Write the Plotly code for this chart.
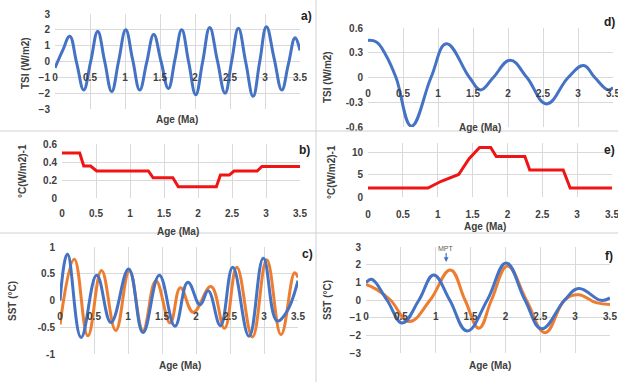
import plotly.graph_objects as go

W, H = 618, 382

# ---------------- data ----------------
age_ticks = [0, 0.5, 1, 1.5, 2, 2.5, 3, 3.5]
age_labels = ["0", "0.5", "1", "1.5", "2", "2.5", "3", "3.5"]

# a) TSI (W/m2)
a_age = [0, 0.11, 0.21, 0.31, 0.41, 0.51, 0.61, 0.71, 0.81, 0.91, 1.01, 1.11, 1.21,
         1.31, 1.41, 1.515, 1.62, 1.715, 1.81, 1.91, 2.01, 2.11, 2.21, 2.32, 2.43,
         2.525, 2.62, 2.725, 2.83, 2.925, 3.02, 3.13, 3.24, 3.335, 3.43, 3.5]
a_tsi = [-0.4, 0.7, 1.6, -0.1, -1.8, 0.0, 1.9, 0.0, -1.9, 0.05, 2.0, 0.1, -1.8,
         -0.05, 1.7, 0.0, -1.7, 0.15, 2.0, -0.05, -2.1, 0.0, 2.15, 0.05, -2.0,
         0.05, 2.1, -0.05, -2.2, 0.0, 2.2, 0.2, -1.8, -0.15, 1.5, 0.7]

# d) TSI (W/m2)
d_age = [0, 0.12, 0.25, 0.4, 0.62, 0.9, 1.12, 1.45, 1.61, 1.79, 2.03, 2.27, 2.55,
         2.86, 3.08, 3.24, 3.43, 3.5]
d_tsi = [0.45, 0.43, 0.28, 0.0, -0.59, 0.0, 0.41, 0.0, -0.15, 0.0, 0.21, 0.0, -0.32,
         0.0, 0.145, 0.0, -0.15, -0.12]

# b) sensitivity °C(W/m2)-1
b_age = [0, 0.26, 0.32, 0.42, 0.51, 1.27, 1.34, 1.63, 1.71, 2.27, 2.33, 2.46, 2.53,
         2.87, 2.94, 3.5]
b_sens = [0.5, 0.5, 0.355, 0.355, 0.30, 0.30, 0.225, 0.225, 0.125, 0.125, 0.255,
          0.255, 0.30, 0.30, 0.35, 0.35]

# e) sensitivity °C(W/m2)-1
e_age = [0, 0.86, 1.05, 1.3, 1.45, 1.6, 1.76, 1.84, 2.25, 2.32, 2.8, 2.9, 3.5]
e_sens = [2, 2, 3.5, 5, 8.5, 11, 11, 9, 9, 6, 6, 2, 2]

# c) SST (°C)
c_blue_age = [0, 0.11, 0.31, 0.54, 0.75, 1.01, 1.22, 1.46, 1.69, 1.88, 2.06, 2.18,
              2.36, 2.54, 2.78, 2.99, 3.19, 3.33, 3.5]
c_blue_sst = [0.0, 0.87, -0.69, 0.47, -0.41, 0.59, -0.6, 0.47, -0.48, 0.34, -0.08,
              0.18, -0.47, 0.62, -0.67, 0.79, -0.38, -0.22, 0.37]
c_orange_age = [0, 0.21, 0.41, 0.61, 0.82, 1.02, 1.22, 1.41, 1.62, 1.77, 1.96, 2.22,
                2.42, 2.6, 2.83, 3.04, 3.25, 3.45, 3.5]
c_orange_sst = [-0.45, 0.77, -0.66, 0.56, -0.56, 0.55, -0.56, 0.37, -0.42, 0.24,
                -0.22, 0.26, -0.52, 0.62, -0.68, 0.76, -0.64, 0.52, 0.43]

# f) SST (°C)
f_blue_age = [0, 0.08, 0.3, 0.52, 0.76, 0.97, 1.2, 1.45, 1.74, 2.01, 2.28, 2.52,
              2.85, 3.05, 3.37, 3.5]
f_blue_sst = [0.98, 1.17, 0.0, -1.3, 0.0, 1.42, 0.0, -1.75, 0.0, 2.1, 0.0, -1.63,
              0.0, 0.65, -0.02, 0.12]
f_orange_age = [0, 0.15, 0.35, 0.62, 0.92, 1.21, 1.42, 1.62, 1.8, 2.03, 2.3, 2.57,
                2.85, 3.05, 3.3, 3.5]
f_orange_sst = [0.88, 0.6, 0.0, -1.22, 0.0, 1.7, 0.0, -1.6, 0.0, 1.93, 0.0, -1.85,
                0.0, 0.3, -0.15, -0.25]

# ---------------- style ----------------
BLUE = "#4472C4"
ORANGE = "#ED7D31"
RED = "#F01414"
GRID = "#D9D9D9"
TXT = "#404040"
FONT = "Liberation Sans"


def fx(px):
    return px / W


def fy(py):
    return 1 - py / H


fig = go.Figure()

# panel: (axis suffix, x0, x1, ytop, ybottom, yrange, yticks, ytext, xaxis label y px)
panels = [
    ("", 55, 300, 14, 109, [-3, 3], [-3, -2, -1, 0, 1, 2, 3], None, 70),
    ("2", 368, 613, 28, 127, [-0.6, 0.6], [-0.6, -0.3, 0, 0.3, 0.6],
     ["-0.6", "-0.3", "0", "0.3", "0.6"], 86),
    ("3", 62, 300, 144, 198, [0, 0.6], [0, 0.2, 0.4, 0.6], ["0", "0.2", "0.4", "0.6"], 206),
    ("4", 368, 612, 143, 197, [0, 12], [0, 5, 10], ["0", "5", "10"], 207),
    ("5", 60, 298, 247, 354, [-1, 1], [-1, -0.5, 0, 0.5, 1], ["-1", "-0.5", "0", "0.5", "1"], 309),
    ("6", 366, 610, 247, 353, [-3, 3], [-3, -2, -1, 0, 1, 2, 3], None, 309),
]

tickfont = dict(family=FONT, size=10, color=TXT, weight="bold")
for suf, x0, x1, yt, yb, yr, yv, ytx, xlab in panels:
    xa = dict(domain=[fx(x0), fx(x1)], range=[0, 3.5], tickvals=age_ticks,
              ticktext=age_labels, showgrid=True, gridcolor=GRID, gridwidth=1,
              zeroline=False, showline=False, ticks="", tickfont=tickfont,
              anchor="free", position=fy(xlab), automargin=False,
              ticklabeloverflow="allow", fixedrange=True)
    ya = dict(domain=[fy(yb), fy(yt)], range=yr, tickvals=yv, showgrid=True,
              gridcolor=GRID, gridwidth=1, zeroline=False, showline=False, ticks="",
              tickfont=tickfont, anchor="x" + suf, ticklabelstandoff=4,
              automargin=False, fixedrange=True)
    if ytx is not None:
        ya["ticktext"] = ytx
    fig.layout["xaxis" + suf] = xa
    fig.layout["yaxis" + suf] = ya


def line(x, y, color, ax, shape="spline"):
    ln = dict(color=color, width=3, shape=shape)
    if shape == "spline":
        ln["smoothing"] = 1.2
    fig.add_trace(go.Scatter(x=x, y=y, mode="lines", xaxis="x" + ax, yaxis="y" + ax,
                             line=ln, hoverinfo="skip", showlegend=False))


line(a_age, a_tsi, BLUE, "")
line(d_age, d_tsi, BLUE, "2")
line(b_age, b_sens, RED, "3", "linear")
line(e_age, e_sens, RED, "4", "linear")
line(c_orange_age, c_orange_sst, ORANGE, "5")
line(c_blue_age, c_blue_sst, BLUE, "5")
line(f_orange_age, f_orange_sst, ORANGE, "6")
line(f_blue_age, f_blue_sst, BLUE, "6")

annotations = []
labfont = dict(family=FONT, size=10, color=TXT, weight="bold")

x_titles = [(177, 119), (480, 127), (178, 231), (485, 226), (180, 365), (490, 365)]
for px, py in x_titles:
    annotations.append(dict(text="Age (Ma)", x=fx(px), y=fy(py), xref="paper",
                            yref="paper", showarrow=False, font=labfont,
                            xanchor="center", yanchor="middle"))

y_titles = [("TSI (W/m2)", 26, 63), ("TSI (W/m2)", 328, 77),
            ("°C(W/m2)-1", 22, 171), ("°C(W/m2)-1", 332, 172),
            ("SST (°C)", 12, 301), ("SST (°C)", 327, 300)]
for t, px, py in y_titles:
    annotations.append(dict(text=t, x=fx(px), y=fy(py), xref="paper", yref="paper",
                            showarrow=False, textangle=-90, font=labfont,
                            xanchor="center", yanchor="middle"))

panel_labels = [("a)", 306, 16), ("d)", 609, 22), ("b)", 304, 150),
                ("e)", 609, 150), ("c)", 307, 254), ("f)", 609, 256)]
for t, px, py in panel_labels:
    annotations.append(dict(text=t, x=fx(px), y=fy(py), xref="paper", yref="paper",
                            showarrow=False, xanchor="center", yanchor="middle",
                            font=dict(family=FONT, size=12, color="#202020", weight="bold")))

# MPT marker
annotations.append(dict(text="MPT", x=1.15, y=2.15, xref="x6", yref="y6",
                        showarrow=True, ax=0, ay=-14, arrowhead=2, arrowsize=0.8,
                        arrowwidth=1.2, arrowcolor=BLUE,
                        font=dict(family=FONT, size=7, color="#606060")))

fig.update_layout(annotations=annotations)

shapes = [
    dict(type="line", xref="paper", yref="paper", x0=fx(316), x1=fx(316), y0=0, y1=1,
         line=dict(color="#D0D0D0", width=1)),
    dict(type="line", xref="paper", yref="paper", x0=0, x1=1, y0=fy(131), y1=fy(131),
         line=dict(color="#D0D0D0", width=1)),
    dict(type="line", xref="paper", yref="paper", x0=0, x1=1, y0=fy(233), y1=fy(233),
         line=dict(color="#D0D0D0", width=1)),
]

fig.update_layout(width=W, height=H, margin=dict(l=0, r=0, t=0, b=0, autoexpand=False),
                  paper_bgcolor="white", plot_bgcolor="white", shapes=shapes,
                  showlegend=False)

fig.write_html("out.html", config={"displayModeBar": False},
               post_script="document.body.style.margin='0';document.body.style.padding='0';document.body.style.overflow='hidden';")
